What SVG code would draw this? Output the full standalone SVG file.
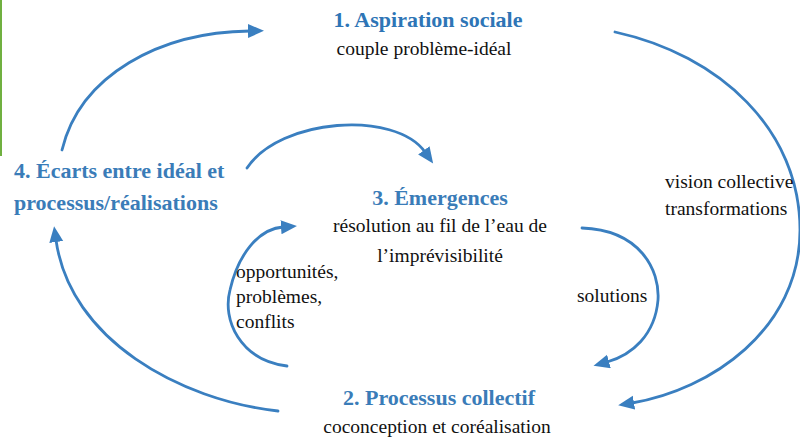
<svg xmlns="http://www.w3.org/2000/svg" width="800" height="439" viewBox="0 0 800 439">
<defs>
<marker id="ah" markerUnits="userSpaceOnUse" markerWidth="18" markerHeight="16" refX="2" refY="7" orient="auto">
<path d="M0,0 L16,7 L0,14 Z" fill="#3a7fc0"/>
</marker>
<style>
text{font-family:'Liberation Serif','DejaVu Serif',Times,serif}
.t{font-weight:bold;font-size:22px;fill:#3a7cb8}
.s{font-size:19.5px;fill:#111}
.c{text-anchor:middle}
.a{fill:none;stroke:#3a7fc0;stroke-width:2.8;stroke-linecap:round}
</style>
</defs>
<rect width="800" height="439" fill="#fff"/>
<rect x="0" y="0" width="2" height="156" fill="#70b040"/>
<g id="connectors">
<path class="a" d="M62,150 C80,75 160,32 250,31" marker-end="url(#ah)"/>
<path class="a" d="M615,32 C720,55 800,130 800,230 C800,330 710,390 632,403" marker-end="url(#ah)"/>
<path class="a" d="M278,411 C180,400 70,340 56,240" marker-end="url(#ah)"/>
<path class="a" d="M247,168 C280,118 395,110 425,152" marker-end="url(#ah)"/>
<path class="a" d="M287,366 C240,360 222,320 230,290 C238,255 258,229 283,227" marker-end="url(#ah)"/>
<path class="a" d="M582,228 C640,230 660,270 658,300 C655,335 632,355 607,362" marker-end="url(#ah)"/>
</g>
<g id="n1" font-family="Liberation Serif, serif">
<text class="t c" x="428" y="27" style="fill:#2e75b6">1. Aspiration sociale</text>
<text class="s c" x="424" y="55">couple problème-idéal</text>
</g>
<g id="n4" font-family="Liberation Serif, serif">
<text class="t" x="14" y="178">4. Écarts entre idéal et</text>
<text class="t" x="14" y="210">processus/réalisations</text>
</g>
<g id="n3" font-family="Liberation Serif, serif">
<text class="t c" x="440" y="205">3. Émergences</text>
<text class="s c" x="440" y="232">résolution au fil de l’eau de</text>
<text class="s c" x="440" y="262">l’imprévisibilité</text>
</g>
<g id="n2" font-family="Liberation Serif, serif">
<text class="t c" x="439" y="405">2. Processus collectif</text>
<text class="s c" x="437" y="433">coconception et coréalisation</text>
</g>
<g id="labels" font-family="Liberation Serif, serif">
<text class="s" x="236" y="278">opportunités,</text>
<text class="s" x="236" y="303">problèmes,</text>
<text class="s" x="236" y="328">conflits</text>
<text class="s" x="577" y="302">solutions</text>
<text class="s" x="665" y="188">vision collective</text>
<text class="s" x="665" y="215">transformations</text>
</g>
</svg>
